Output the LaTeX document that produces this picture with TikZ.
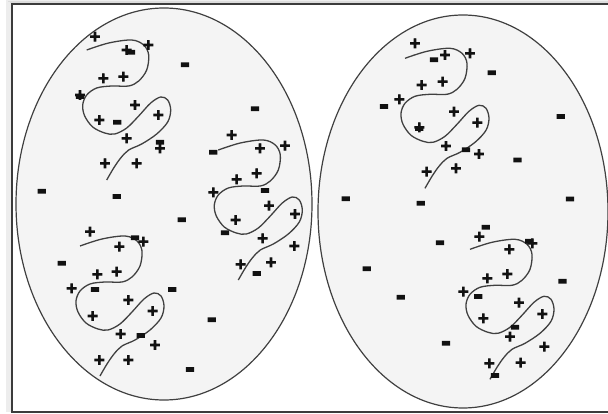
\documentclass[tikz,border=0pt]{standalone}
\usepackage{fontspec}
\newfontfamily\plusfont[FakeBold=6]{DejaVu Sans Bold}
\newfontfamily\minusfont[FakeBold=7]{DejaVu Sans Bold}
\definecolor{fillgray}{HTML}{F4F4F4}
\definecolor{edgegray}{HTML}{404040}
\definecolor{framegray}{HTML}{3C3C3C}
\definecolor{signcol}{HTML}{111111}
\tikzset{
  cell/.style={fill=fillgray, draw=edgegray, line width=1.2pt},
  curve/.style={draw=edgegray, line width=1.3pt},
  plus/.style={font=\plusfont\fontsize{14.5}{15}\selectfont, text=signcol, inner sep=0pt},
  minus/.style={font=\minusfont\fontsize{22}{22}\selectfont, text=signcol, inner sep=0pt,
    anchor=base, yshift=-6.8pt},
  squiggle/.pic={
    \draw[curve] plot[smooth, tension=0.55] coordinates {
      (0,0) (22,-7) (45,-10) (57,-5) (62,5) (60,20) (52,31) (42,36) (25,36)
      (10,38) (0,45) (-4,55) (-2,66) (6,77) (18,83) (28,84) (40,78) (52,66)
      (64,53) (74,47) (81,50) (84,60) (81,72) (70,84) (55,94) (42,100)
      (34,108) (27,118) (20,130)};
  }
}
\begin{document}
\begin{tikzpicture}[x=1pt,y=-1pt]
\useasboundingbox (0,0) rectangle (608,414);
\clip (0,0) rectangle (608,414);

% soft shadow along the left and top edges, then the frame
\foreach \d in {1,...,6}
  \draw[black, opacity=0.07, line width=1pt] (12-\d,411.5) -- (12-\d,4-0.5*\d) -- (640,4-0.5*\d);
\draw[framegray, line width=2pt] (12,4) rectangle (640,411.5);

% the two cells
\path[cell] (164,204) ellipse [x radius=148, y radius=196];
\path[cell] (463,211.5) ellipse [x radius=145, y radius=196.5];

% folded strands
\pic (s1) at (86.7,50) {squiggle};
\pic (s2) at (218.3,150) {squiggle};
\pic (s3) at (80,246) {squiggle};
\pic (s4) at (405,58.3) {squiggle};
\pic (s5) at (470,249.3) {squiggle};

% positive charges
\foreach \p [count=\i] in {
  (95,36.7), (126.7,50), (148.3,45), (103.3,78.3), (123.3,76.7), (80,95),
  (135,105), (158.3,115), (99.3,120), (126.7,138.3), (160,148.3), (105,163.3),
  (136.7,163.3),
  (231.7,135), (260,148.3), (285,145.7), (236.7,179.3), (256.7,173.3),
  (213.3,192.3), (269,205.7), (295,214), (235.7,220), (262.7,238.3),
  (294.3,246), (271,262.3), (240.7,264.3),
  (90,231.7), (119.3,246.7), (143.3,241.7), (97.3,274.3), (116.7,271.7),
  (71.7,288.3), (128.3,300), (152.7,311), (92.7,316), (120.7,334), (155,345),
  (99.3,360), (128.3,360),
  (415,43.3), (445,55), (470,53.3), (421.7,85), (442.7,81.7), (399.3,99.3),
  (454,111.7), (419.3,127.3), (477.3,122.7), (446,146), (479,154),
  (426.7,171.7), (456,168.3),
  (479.3,236.7), (509.3,249.3), (532.3,243.3), (487.3,278.3), (507.3,274),
  (463.3,291.7), (519,302.7), (542.3,314), (483.3,318.3), (510,336.7),
  (544.3,346.7), (489.3,363.3), (520.7,362.7)}
  \node[plus] (p\i) at \p {+};

% negative charges
\foreach \p [count=\i] in {
  (131,51.7), (185,64.3), (80,96), (117.3,121.7), (160,141.7),
  (255,108.3), (213.3,151.7), (265,190), (225,232.3), (256.7,273),
  (135,237.3), (61.7,262.7), (95,289), (172.3,289), (140.7,335),
  (211.7,319.3), (190,369), (181.7,219.3), (41.7,190.7), (116.7,196),
  (434,59.3), (491.7,72.3), (384,106), (466,149.3), (517.5,159.5),
  (560.7,116), (419.3,128), (345.7,198.3), (420.7,202.7), (570,198.5),
  (485.7,226.7), (529.3,240.7), (440,242.3), (562.5,280.7), (478.3,296),
  (515,326.7), (446,342.7), (495,375), (366.7,268.3), (400.7,296.7)}
  \node[minus] (m\i) at \p {-};
\end{tikzpicture}
\end{document}
